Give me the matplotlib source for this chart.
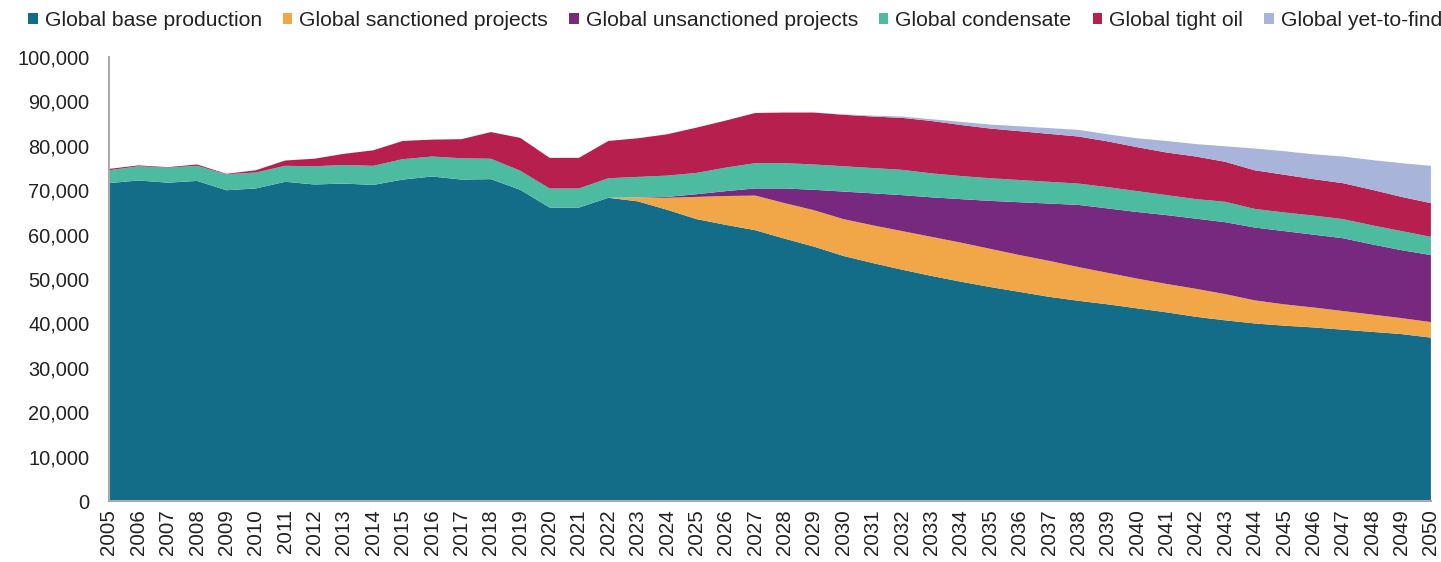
import matplotlib.pyplot as plt
from matplotlib.patches import Patch
from matplotlib.ticker import FuncFormatter
import numpy as np

plt.rcParams['font.family'] = ['Liberation Sans', 'DejaVu Sans']

years = list(range(2005, 2051))

base = [71600, 72200, 71700, 72100, 70000, 70400, 71900, 71300, 71500, 71200,
        72400, 73100, 72400, 72500, 70100, 66100, 66100, 68300, 67500, 65600,
        63500, 62200, 61000, 59100, 57300, 55200, 53600, 52100, 50700, 49400,
        48200, 47100, 46000, 45100, 44300, 43400, 42500, 41500, 40700, 40000,
        39500, 39100, 38600, 38100, 37600, 36800]
sanctioned = [0] * 17 + [0, 900, 2700, 5000, 6500, 7800, 8000, 8200, 8300,
                         8500, 8700, 8800, 8800, 8600, 8300, 8100, 7600, 7100,
                         6700, 6400, 6300, 5900, 5200, 4800, 4500, 4200, 3900,
                         3600, 3500]
unsanctioned = [0] * 19 + [200, 600, 1100, 1600, 3300, 4600, 6200, 7200, 8100,
                           8900, 9800, 10800, 11900, 12900, 14000, 14500, 15000,
                           15500, 15800, 16200, 16400, 16500, 16400, 16400,
                           15800, 15300, 15100]
condensate = [2900, 3200, 3400, 3400, 3600, 3600, 3600, 4100, 4200, 4300,
              4600, 4500, 4800, 4600, 4300, 4300, 4300, 4400, 4600, 4800,
              4800, 5300, 5700, 5700, 5700, 5700, 5700, 5700, 5400, 5200,
              5100, 5000, 4900, 4800, 4800, 4700, 4500, 4400, 4600, 4200,
              4200, 4300, 4300, 4300, 4300, 4100]
tight_oil = [300, 200, 100, 300, 100, 500, 1200, 1700, 2500, 3500,
             4100, 3800, 4300, 6000, 7400, 6900, 6900, 8400, 8700, 9300,
             10200, 10600, 11300, 11400, 11700, 11600, 11600, 11700, 11800, 11500,
             11200, 11000, 10800, 10600, 10300, 9900, 9600, 9600, 9000, 8700,
             8500, 8200, 8100, 8000, 7700, 7600]
yet_to_find = [0] * 23 + [0, 0, 100, 200, 300, 400, 700, 900, 1100, 1300, 1500,
                          1600, 2000, 2600, 2800, 3500, 4900, 5300, 5600, 6000,
                          6700, 7600, 8400]

labels = ["Global base production", "Global sanctioned projects",
          "Global unsanctioned projects", "Global condensate",
          "Global tight oil", "Global yet-to-find"]
colors = ["#146d88", "#f1a648", "#77297f", "#4dbba0", "#b71f4f", "#a9b4da"]

fig = plt.figure(figsize=(14.41, 5.62), dpi=100)
ax = fig.add_axes([0.0756, 0.1085, 0.9174, 0.79])

ax.stackplot(years, base, sanctioned, unsanctioned, condensate, tight_oil,
             yet_to_find, colors=colors, linewidth=0)

ax.set_xlim(2005, 2050)
ax.set_ylim(0, 100000)
ax.set_yticks(np.arange(0, 100001, 10000))
ax.yaxis.set_major_formatter(FuncFormatter(lambda v, p: f"{int(v):,}"))
ax.set_xticks(years)
ax.set_xticklabels([str(y) for y in years], rotation=90)
ax.tick_params(axis='y', length=0, pad=14, labelsize=14.4, labelcolor='#222222')
ax.tick_params(axis='x', length=0, pad=6, labelsize=14.8, labelcolor='#222222')

for s in ['top', 'right']:
    ax.spines[s].set_visible(False)
for s in ['left', 'bottom']:
    ax.spines[s].set_color('#aaaaaa')
    ax.spines[s].set_linewidth(1.5)

# legend row across the top
handles = [Patch(facecolor=c, edgecolor='none') for c in colors]
fig.legend(handles, labels, loc='center left', bbox_to_anchor=(0.0195, 0.964),
           ncol=6, frameon=False, fontsize=15.2, handlelength=0.45,
           handleheight=0.45, handletextpad=0.33, columnspacing=1.0,
           borderpad=0, borderaxespad=0, labelcolor='#222222')

fig.savefig("out.png", dpi=100)
